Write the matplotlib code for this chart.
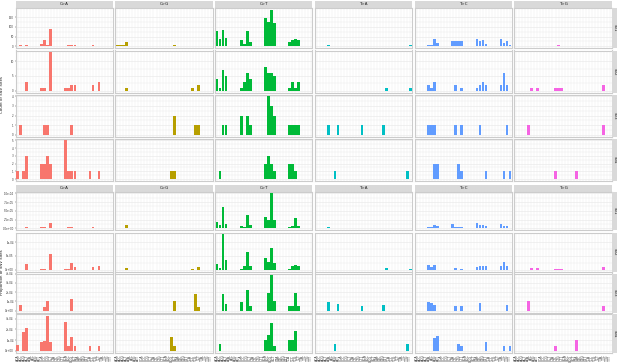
import matplotlib

matplotlib.use("Agg")

import matplotlib.pyplot as plt
import numpy as np

# x categories (pyrimidine-centred trinucleotides, alphabetical)
contexts = [
    "ACA", "ACC", "ACG", "ACT", "ATA", "ATC", "ATG", "ATT",
    "CCA", "CCC", "CCG", "CCT", "CTA", "CTC", "CTG", "CTT",
    "GCA", "GCC", "GCG", "GCT", "GTA", "GTC", "GTG", "GTT",
    "TCA", "TCC", "TCG", "TCT", "TTA", "TTC", "TTG", "TTT",
]
mutations = ["C>A", "C>G", "C>T", "T>A", "T>C", "T>G"]
colours = ["#F8766D", "#B79F00", "#00BA38", "#00BFC4", "#619CFF", "#F564E3"]
samples = ["S01", "S02", "S03", "S04"]

# counts of SNV sites, one dict per sample (row)
count_CA = [
    {"ACC": 4, "ACT": 6, "CCA": 12, "CCC": 30, "CCG": 4, "CCT": 90, "GCA": 3,
     "GCC": 8, "GCG": 5, "GCT": 7, "TCA": 3, "TCC": 8, "TCT": 3},
    {"ACT": 3, "CCA": 1, "CCC": 1, "CCT": 13, "GCA": 1, "GCC": 1, "GCG": 2,
     "GCT": 2, "TCC": 2, "TCT": 3},
    {"ACC": 1, "CCC": 1, "CCG": 1, "GCG": 1},
    {"ACA": 1, "ACG": 1, "ACT": 3, "CCA": 2, "CCC": 2, "CCG": 3, "CCT": 2,
     "GCA": 5, "GCC": 1, "GCG": 1, "GCT": 1, "TCA": 1, "TCT": 1},
]
count_CG = [
    {"ACA": 4, "ACC": 4, "ACG": 4, "ACT": 22, "CCG": 3, "CCT": 3, "GCA": 2,
     "GCT": 4, "TCA": 3, "TCT": 2},
    {"ACT": 1, "TCC": 1, "TCT": 2},
    {"GCT": 2, "TCG": 1, "TCT": 1},
    {"GCG": 1, "GCT": 1},
]
count_CT = [
    {"ACA": 79, "ACC": 39, "ACG": 84, "ACT": 45, "CCA": 32, "CCC": 10,
     "CCG": 79, "CCT": 23, "GCA": 147, "GCC": 127, "GCG": 189, "GCT": 119,
     "TCA": 23, "TCC": 32, "TCG": 39, "TCT": 32},
    {"ACA": 4, "ACC": 1, "ACG": 7, "ACT": 5, "CCA": 1, "CCC": 3, "CCG": 6,
     "CCT": 4, "GCA": 8, "GCC": 6, "GCG": 6, "GCT": 5, "TCA": 1, "TCC": 3,
     "TCG": 1, "TCT": 3},
    {"ACG": 1, "ACT": 1, "CCA": 2, "CCG": 2, "CCT": 1, "GCC": 4, "GCG": 3,
     "GCT": 2, "TCA": 1, "TCC": 1, "TCG": 1, "TCT": 1},
    {"ACC": 1, "GCA": 2, "GCC": 3, "GCG": 2, "GCT": 1, "TCA": 2, "TCC": 2,
     "TCG": 1},
]
count_TA = [
    {"ATA": 8, "ATC": 3, "ATG": 3, "ATT": 3, "CTA": 3, "CTC": 3, "CTG": 3,
     "CTT": 3, "GTA": 3, "GTC": 3, "GTT": 3, "TTA": 2, "TTT": 4},
    {"GTT": 1, "TTT": 1},
    {"ATA": 1, "ATT": 1, "CTT": 1, "GTG": 1},
    {"ATG": 1, "TTG": 1},
]
count_TC = [
    {"ATA": 5, "ATC": 5, "ATG": 35, "ATT": 19, "CTA": 26, "CTC": 26, "CTG": 26,
     "CTT": 26, "GTA": 39, "GTC": 26, "GTG": 32, "GTT": 13, "TTA": 35,
     "TTC": 18, "TTG": 26, "TTT": 6},
    {"ATA": 2, "ATC": 1, "ATG": 3, "CTC": 2, "CTT": 1, "GTA": 1, "GTC": 2,
     "GTG": 3, "GTT": 2, "TTA": 2, "TTC": 6, "TTG": 2},
    {"ATA": 1, "ATC": 1, "ATG": 1, "CTC": 1, "CTT": 1, "GTC": 1, "TTG": 1},
    {"ATG": 2, "ATT": 2, "CTG": 2, "CTT": 1, "GTT": 1, "TTC": 1, "TTT": 1},
]
count_TG = [
    {"ATC": 1, "CTC": 2, "CTG": 4, "CTT": 2, "GTC": 2, "GTG": 2, "GTT": 2,
     "TTA": 1, "TTC": 1, "TTG": 2, "TTT": 2},
    {"ATC": 1, "ATT": 1, "CTC": 1, "CTG": 1, "CTT": 1, "TTC": 2},
    {"ATA": 1, "TTC": 1},
    {"CTC": 1, "GTA": 1},
]

# proportions of SNV sites, one dict per sample (row)
prop_CA = [
    {"ACC": 1.2e-06, "ACT": 3.0e-06, "CCA": 2.5e-06, "CCC": 5.0e-06,
     "CCG": 1.5e-06, "CCT": 1.55e-05, "GCA": 1.2e-06, "GCC": 3.0e-06,
     "GCG": 2.5e-06, "GCT": 2.0e-06, "TCA": 1.2e-06, "TCC": 2.5e-06,
     "TCT": 1.2e-06},
    {"ACT": 1.95e-05, "CCA": 3.5e-06, "CCC": 3.5e-06, "CCT": 5.6e-05,
     "GCA": 3.5e-06, "GCC": 3.5e-06, "GCG": 2.45e-05, "GCT": 1.0e-05,
     "TCC": 1.0e-05, "TCT": 1.35e-05},
    {"ACC": 6.4e-05, "CCC": 4.3e-05, "CCG": 1.07e-04, "GCG": 1.29e-04},
    {"ACA": 5.6e-05, "ACG": 1.78e-04, "ACT": 2.12e-04, "CCA": 8.4e-05,
     "CCC": 9.0e-05, "CCG": 3.28e-04, "CCT": 8.4e-05, "GCA": 2.72e-04,
     "GCC": 4.7e-05, "GCG": 1.25e-04, "GCT": 4.7e-05, "TCA": 4.7e-05,
     "TCT": 4.7e-05},
]
prop_CG = [
    {"ACA": 1.2e-06, "ACC": 1.2e-06, "ACG": 1.2e-06, "ACT": 8.2e-06,
     "CCG": 1.0e-06, "CCT": 1.0e-06, "GCA": 0.8e-06, "GCT": 1.2e-06,
     "TCA": 1.2e-06, "TCT": 0.8e-06},
    {"ACT": 6.0e-06, "TCC": 3.5e-06, "TCT": 8.5e-06},
    {"GCT": 1.04e-04, "TCG": 1.82e-04, "TCT": 4.3e-05},
    {"GCG": 1.28e-04, "GCT": 4.7e-05},
]
prop_CT = [
    {"ACA": 1.9e-05, "ACC": 1.0e-05, "ACG": 6.2e-05, "ACT": 1.3e-05,
     "CCA": 6.5e-06, "CCC": 2.5e-06, "CCG": 3.65e-05, "CCT": 1.0e-05,
     "GCA": 3.25e-05, "GCC": 2.5e-05, "GCG": 1.0e-04, "GCT": 2.5e-05,
     "TCA": 3.8e-06, "TCC": 6.5e-06, "TCG": 3.0e-05, "TCT": 6.5e-06},
    {"ACA": 2.2e-05, "ACC": 5.0e-06, "ACG": 1.28e-04, "ACT": 3.4e-05,
     "CCA": 3.5e-06, "CCC": 1.2e-05, "CCG": 6.45e-05, "CCT": 1.2e-05,
     "GCA": 4.4e-05, "GCC": 2.8e-05, "GCG": 7.7e-05, "GCT": 2.45e-05,
     "TCA": 3.5e-06, "TCC": 1.35e-05, "TCG": 1.6e-05, "TCT": 1.2e-05},
    {"ACG": 1.79e-04, "ACT": 6.8e-05, "CCA": 8.9e-05, "CCG": 2.18e-04,
     "CCT": 5.4e-05, "GCC": 1.96e-04, "GCG": 3.82e-04, "GCT": 1.04e-04,
     "TCA": 5.0e-05, "TCC": 5.0e-05, "TCG": 1.86e-04, "TCT": 5.0e-05},
    {"ACC": 6.2e-05, "GCA": 1.03e-04, "GCC": 1.47e-04, "GCG": 2.56e-04,
     "GCT": 4.7e-05, "TCA": 1.03e-04, "TCC": 9.7e-05, "TCG": 1.84e-04},
]
prop_TA = [
    {"ATA": 5.0e-06, "ATC": 1.2e-06, "ATG": 1.2e-06, "ATT": 1.2e-06,
     "CTA": 1.0e-06, "CTC": 1.0e-06, "CTG": 1.0e-06, "CTT": 1.0e-06,
     "GTA": 1.0e-06, "GTC": 1.0e-06, "GTT": 1.0e-06, "TTA": 0.8e-06,
     "TTT": 1.2e-06},
    {"GTT": 7.5e-06, "TTT": 2.5e-06},
    {"ATA": 9.6e-05, "ATT": 6.8e-05, "CTT": 5.0e-05, "GTG": 5.7e-05},
    {"ATG": 6.0e-05, "TTG": 6.0e-05},
]
prop_TC = [
    {"ATA": 3.8e-06, "ATC": 3.8e-06, "ATG": 8.2e-06, "ATT": 5.5e-06,
     "CTA": 1.12e-05, "CTC": 5.0e-06, "CTG": 5.0e-06, "CTT": 5.0e-06,
     "GTA": 1.6e-05, "GTC": 1.0e-05, "GTG": 1.0e-05, "GTT": 5.5e-06,
     "TTA": 1.3e-05, "TTC": 5.5e-06, "TTG": 5.5e-06, "TTT": 2.0e-06},
    {"ATA": 1.7e-05, "ATC": 8.5e-06, "ATG": 1.7e-05, "CTC": 6.0e-06,
     "CTT": 2.5e-06, "GTA": 8.5e-06, "GTC": 1.35e-05, "GTG": 1.35e-05,
     "GTT": 1.35e-05, "TTA": 1.5e-05, "TTC": 2.9e-05, "TTG": 1.2e-05},
    {"ATA": 9.6e-05, "ATC": 7.9e-05, "ATG": 6.0e-05, "CTC": 5.0e-05,
     "CTT": 5.0e-05, "GTC": 7.9e-05, "TTG": 6.4e-05},
    {"ATG": 1.16e-04, "ATT": 1.34e-04, "CTG": 6.6e-05, "CTT": 4.0e-05,
     "GTT": 7.8e-05, "TTC": 4.7e-05, "TTT": 4.0e-05},
]
prop_TG = [
    {"ATC": 0.5e-06, "CTC": 0.8e-06, "CTG": 1.2e-06, "CTT": 0.8e-06,
     "GTC": 0.8e-06, "GTG": 0.8e-06, "GTT": 0.8e-06, "TTA": 0.5e-06,
     "TTC": 0.5e-06, "TTG": 0.8e-06, "TTT": 0.8e-06},
    {"ATC": 6.0e-06, "ATT": 6.0e-06, "CTC": 3.5e-06, "CTG": 3.5e-06,
     "CTT": 3.5e-06, "TTC": 8.5e-06},
    {"ATA": 1.0e-04, "TTC": 5.0e-05},
    {"CTC": 4.7e-05, "GTA": 1.0e-04},
]

count_ticks = [[0, 50, 100, 150], [0, 5, 10], [0, 1, 2, 3, 4], [0, 1, 2, 3, 4, 5]]
count_labels = [["0", "50", "100", "150"], ["0", "5", "10"],
                ["0", "1", "2", "3", "4"], ["0", "1", "2", "3", "4", "5"]]
prop_ticks = [[0, 2.5e-05, 5e-05, 7.5e-05, 1e-04], [0, 5e-05, 1e-04],
              [0, 1e-04, 2e-04, 3e-04, 4e-04], [0, 1e-04, 2e-04, 3e-04]]
prop_labels = [["0.0e+00", "2.5e-05", "5.0e-05", "7.5e-05", "1.0e-04"],
               ["0e+00", "5e-05", "1e-04"],
               ["0e+00", "1e-04", "2e-04", "3e-04", "4e-04"],
               ["0e+00", "1e-04", "2e-04", "3e-04"]]

W, H = 617, 364
fig = plt.figure(figsize=(W / 100, H / 100), dpi=100)
fig.patch.set_facecolor("white")

STRIP = "#D9D9D9"
BORDER = "#CCCCCC"
GRID = "#EBEBEB"
TXT = "#4D4D4D"
FS = 2.6

col_x = [15.7 + i * 99.75 for i in range(6)]
col_w = 97.2


def px_axes(x0, y0, w, h):
    return fig.add_axes([x0 / W, 1 - (y0 + h) / H, w / W, h / H])


def strip(x0, y0, w, h, text, rot=0):
    sax = px_axes(x0, y0, w, h)
    sax.set_facecolor(STRIP)
    for s in sax.spines.values():
        s.set_visible(False)
    sax.set_xticks([])
    sax.set_yticks([])
    sax.text(0.5, 0.5, text, ha="center", va="center", rotation=rot,
             fontsize=FS + 0.3, color="#1A1A1A", transform=sax.transAxes)


def draw_block(data, strip_y, row_tops, row_hs, ticks, labels, show_x):
    x = np.arange(len(contexts))
    for c, mut in enumerate(mutations):
        strip(col_x[c], strip_y, col_w, 7, mut)
    for r in range(4):
        ymax = max(max(d[r].values()) for d in data)
        for c in range(6):
            ax = px_axes(col_x[c], row_tops[r], col_w, row_hs[r])
            vals = [data[c][r].get(k, 0) for k in contexts]
            ax.bar(x, vals, width=0.9, color=colours[c], zorder=3)
            ax.set_xlim(-0.6, len(contexts) - 0.4)
            ax.set_ylim(-0.05 * ymax, 1.05 * ymax)
            tk = ticks[r]
            minor = [(a + b) / 2 for a, b in zip(tk[:-1], tk[1:])]
            for v in tk:
                ax.axhline(v, color=GRID, lw=0.5, zorder=1)
            for v in minor:
                ax.axhline(v, color=GRID, lw=0.3, zorder=1)
            for xi in x:
                ax.axvline(xi, color=GRID, lw=0.35, zorder=1)
            ax.set_yticks(tk)
            ax.set_xticks(x)
            if c == 0:
                ax.set_yticklabels(labels[r], fontsize=1.9, color=TXT)
            else:
                ax.set_yticklabels([])
            if show_x and r == 3:
                ax.set_xticklabels(contexts, rotation=90, fontsize=FS - 0.3,
                                   color=TXT)
            else:
                ax.set_xticklabels([])
            ax.tick_params(length=1 if c == 0 else 0, width=0.3, pad=0.4,
                           colors="#333333", axis="y")
            ax.tick_params(length=1 if (show_x and r == 3) else 0, width=0.3,
                           pad=0.5, colors="#333333", axis="x")
            for s in ax.spines.values():
                s.set_color(BORDER)
                s.set_linewidth(0.8)
        strip(612, row_tops[r], 5, row_hs[r], samples[r], rot=-90)


count_data = [count_CA, count_CG, count_CT, count_TA, count_TC, count_TG]
prop_data = [prop_CA, prop_CG, prop_CT, prop_TA, prop_TC, prop_TG]

draw_block(count_data, 0.5, [8, 50.5, 94.5, 138.5], [40, 42, 42, 42.5],
           count_ticks, count_labels, show_x=False)
draw_block(prop_data, 184.5, [191.5, 232.5, 273.5, 314], [38.5, 39, 39, 38.5],
           prop_ticks, prop_labels, show_x=True)

fig.text(1.8 / W, 1 - 95 / H, "Count of SNV Sites", rotation=90, ha="center",
         va="center", fontsize=2.8, color="#1A1A1A")
fig.text(1.8 / W, 1 - 272 / H, "Proportion of SNV Sites", rotation=90,
         ha="center", va="center", fontsize=2.8, color="#1A1A1A")

fig.savefig("out.png", dpi=100, facecolor="white")
